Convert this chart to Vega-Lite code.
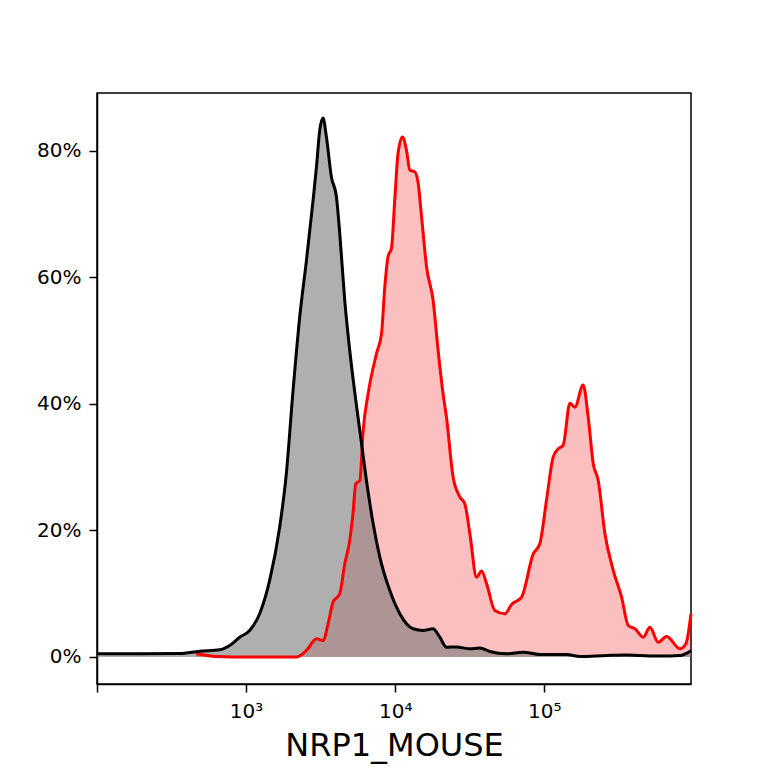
{
 "$schema": "https://vega.github.io/schema/vega-lite/v6.json",
 "width": 594,
 "height": 591,
 "autosize": "none",
 "padding": {"left": 97, "top": 93, "right": 77, "bottom": 84},
 "background": "white",
 "config": {"view": {"stroke": "black", "strokeWidth": 1.5}, "font": "DejaVu Sans"},
 "datasets": {
  "ctrl": [
   {"x": 100, "pct": 0.5}, {"x": 193, "pct": 0.5}, {"x": 358, "pct": 0.55}, {"x": 489, "pct": 0.92},
   {"x": 665, "pct": 1.14}, {"x": 776, "pct": 1.82}, {"x": 906, "pct": 3.13}, {"x": 1057, "pct": 4.19},
   {"x": 1233, "pct": 6.84}, {"x": 1439, "pct": 12.1}, {"x": 1679, "pct": 20.5}, {"x": 1862, "pct": 29.0},
   {"x": 2053, "pct": 41.4}, {"x": 2290, "pct": 53.8}, {"x": 2540, "pct": 62.7}, {"x": 2813, "pct": 72.2},
   {"x": 2965, "pct": 77.5}, {"x": 3119, "pct": 83.3}, {"x": 3283, "pct": 85.2}, {"x": 3458, "pct": 82.2},
   {"x": 3735, "pct": 75.9}, {"x": 4033, "pct": 72.8}, {"x": 4247, "pct": 67.0}, {"x": 4588, "pct": 56.4},
   {"x": 4955, "pct": 48.5}, {"x": 5441, "pct": 40.6}, {"x": 5792, "pct": 35.8}, {"x": 6416, "pct": 27.9},
   {"x": 7112, "pct": 21.1}, {"x": 7886, "pct": 15.8}, {"x": 9205, "pct": 10.5}, {"x": 10740, "pct": 6.84},
   {"x": 13190, "pct": 4.46}, {"x": 15380, "pct": 4.19}, {"x": 17950, "pct": 4.46}, {"x": 19910, "pct": 3.13},
   {"x": 22080, "pct": 1.55}, {"x": 25760, "pct": 1.58}, {"x": 31690, "pct": 1.3}, {"x": 36970, "pct": 1.42},
   {"x": 43140, "pct": 0.87}, {"x": 55850, "pct": 0.51}, {"x": 72150, "pct": 0.76}, {"x": 93330, "pct": 0.4},
   {"x": 141200, "pct": 0.4}, {"x": 173400, "pct": 0.08}, {"x": 261800, "pct": 0.24}, {"x": 347500, "pct": 0.32},
   {"x": 438300, "pct": 0.24}, {"x": 597000, "pct": 0.16}, {"x": 813000, "pct": 0.24}, {"x": 964000, "pct": 1.0}
  ],
  "stain": [
   {"x": 463, "pct": 0.5}, {"x": 632, "pct": 0.08}, {"x": 1057, "pct": 0}, {"x": 2178, "pct": 0},
   {"x": 2540, "pct": 1.03}, {"x": 2965, "pct": 2.88}, {"x": 3283, "pct": 2.61}, {"x": 3548, "pct": 5.25},
   {"x": 3831, "pct": 8.67}, {"x": 4247, "pct": 10.0}, {"x": 4588, "pct": 14.7}, {"x": 4955, "pct": 18.4},
   {"x": 5212, "pct": 22.7}, {"x": 5441, "pct": 27.4}, {"x": 5792, "pct": 27.9}, {"x": 6097, "pct": 35.8},
   {"x": 6581, "pct": 41.6}, {"x": 7499, "pct": 48.0}, {"x": 8095, "pct": 51.1}, {"x": 8518, "pct": 58.5},
   {"x": 8955, "pct": 63.3}, {"x": 9443, "pct": 64.6}, {"x": 9931, "pct": 72.2}, {"x": 10450, "pct": 79.6},
   {"x": 11190, "pct": 82.2}, {"x": 11910, "pct": 80.1}, {"x": 12530, "pct": 77.0}, {"x": 13550, "pct": 76.7},
   {"x": 14260, "pct": 74.9}, {"x": 15030, "pct": 69.6}, {"x": 16230, "pct": 61.7}, {"x": 17960, "pct": 56.4},
   {"x": 19400, "pct": 48.5}, {"x": 20950, "pct": 41.6}, {"x": 22080, "pct": 37.9}, {"x": 24470, "pct": 28.4},
   {"x": 27160, "pct": 25.3}, {"x": 29330, "pct": 24.2}, {"x": 31690, "pct": 19.5}, {"x": 35150, "pct": 12.6},
   {"x": 37960, "pct": 13.6}, {"x": 41000, "pct": 11.6}, {"x": 46600, "pct": 7.36}, {"x": 54420, "pct": 6.84},
   {"x": 60370, "pct": 8.31}, {"x": 70470, "pct": 9.46}, {"x": 84340, "pct": 16.3}, {"x": 93330, "pct": 17.9},
   {"x": 103500, "pct": 24.8}, {"x": 114700, "pct": 31.6}, {"x": 123900, "pct": 32.9}, {"x": 133900, "pct": 33.5},
   {"x": 148500, "pct": 40.1}, {"x": 160400, "pct": 39.5}, {"x": 182300, "pct": 43.0}, {"x": 197100, "pct": 37.9},
   {"x": 212900, "pct": 30.6}, {"x": 230000, "pct": 27.9}, {"x": 255100, "pct": 19.5}, {"x": 290000, "pct": 13.7},
   {"x": 330000, "pct": 9.46}, {"x": 365600, "pct": 4.98}, {"x": 405500, "pct": 4.46}, {"x": 461300, "pct": 3.13},
   {"x": 511300, "pct": 4.72}, {"x": 581000, "pct": 2.34}, {"x": 662000, "pct": 3.24}, {"x": 813000, "pct": 1.3},
   {"x": 891000, "pct": 2.09}, {"x": 964000, "pct": 6.84}
  ]
 },
 "encoding": {
  "x": {
   "field": "x", "type": "quantitative",
   "scale": {"type": "log", "domain": [100, 964000], "nice": false},
   "axis": {
    "values": [100, 1000, 10000, 100000],
    "labelExpr": "datum.value == 1000 ? '10³' : datum.value == 10000 ? '10⁴' : datum.value == 100000 ? '10⁵' : ''",
    "grid": false, "domainColor": "black", "domainWidth": 1.5, "tickColor": "black", "tickWidth": 1.5, "tickSize": 8,
    "labelFontSize": 20, "labelColor": "black", "labelPadding": 9, "labelFlush": false,
    "title": "NRP1_MOUSE", "titleFontSize": 32, "titleFontWeight": "normal", "titleColor": "black", "titlePadding": 9
   }
  },
  "y": {
   "field": "pct", "type": "quantitative",
   "scale": {"domain": [-4.27, 89.17], "nice": false, "zero": false},
   "axis": {
    "values": [0, 20, 40, 60, 80],
    "labelExpr": "datum.value + '%'",
    "grid": false, "domainColor": "black", "domainWidth": 1.5, "tickColor": "black", "tickWidth": 1.5, "tickSize": 8,
    "labelFontSize": 20, "labelColor": "black", "labelPadding": 8, "title": null
   }
  }
 },
 "layer": [
  {"data": {"name": "stain"}, "mark": {"type": "area", "color": "#f20000", "opacity": 0.25, "interpolate": "monotone"}, "encoding": {"y2": {"datum": 0}}},
  {"data": {"name": "ctrl"}, "mark": {"type": "area", "color": "#7a7a7a", "opacity": 0.6, "interpolate": "monotone"}, "encoding": {"y2": {"datum": 0}}},
  {"data": {"name": "stain"}, "mark": {"type": "line", "color": "#ff0000", "strokeWidth": 3, "interpolate": "monotone"}, "encoding": {}},
  {"data": {"name": "ctrl"}, "mark": {"type": "line", "color": "black", "strokeWidth": 3, "interpolate": "monotone"}, "encoding": {}}
 ]
}
